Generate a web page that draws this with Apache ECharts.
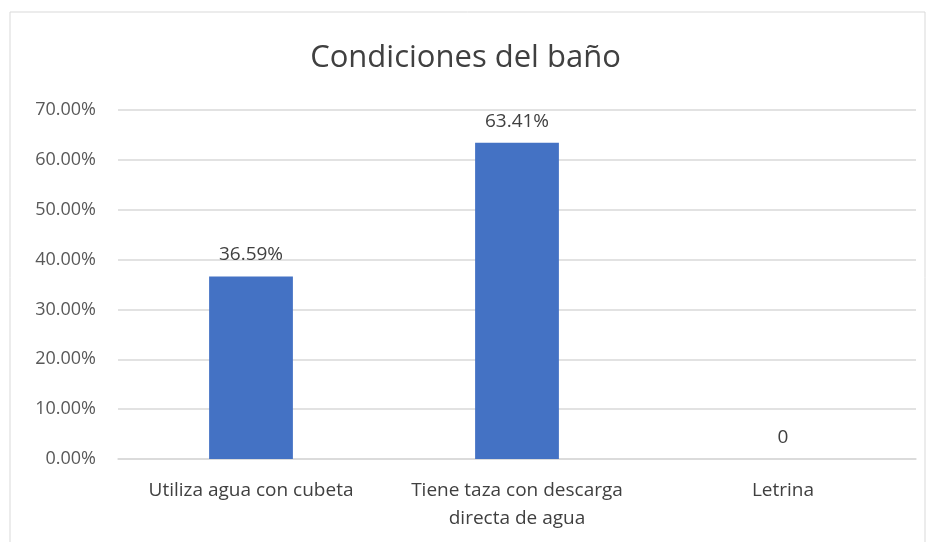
<!DOCTYPE html>
<html>
<head>
<meta charset="utf-8">
<script src="https://cdn.jsdelivr.net/npm/echarts@6/dist/echarts.min.js"></script>
<style>
  html, body { margin: 0; padding: 0; background: #fff; }
  #chart { width: 931px; height: 542px; }
</style>
</head>
<body>
<div id="chart"></div>
<script>
// data
var categories = ['Utiliza agua con cubeta', 'Tiene taza con descarga\ndirecta de agua', 'Letrina'];
var values = [36.59, 63.41, 0];
var labels = ['36.59%', '63.41%', '0'];

var chart = echarts.init(document.getElementById('chart'));
chart.setOption({
    backgroundColor: '#fff',
    textStyle: { fontFamily: 'Open Sans' },
    title: {
        text: 'Condiciones del baño',
        left: 'center',
        top: 38,
        textStyle: { fontSize: 31, fontWeight: 'normal', color: '#404040', fontFamily: 'Open Sans' }
    },
    graphic: [{
        type: 'rect',
        shape: { x: 10, y: 12, width: 915, height: 540 },
        style: { fill: 'none', stroke: '#d9d9d9', lineWidth: 1 },
        silent: true
    }],
    grid: { left: 118, right: 15, top: 110, bottom: 83 },
    xAxis: {
        type: 'category',
        data: categories,
        axisTick: { show: false },
        axisLine: { lineStyle: { color: '#d9d9d9', width: 1.5 } },
        axisLabel: { interval: 0, color: '#404040', fontSize: 19, margin: 18, lineHeight: 28 }
    },
    yAxis: {
        type: 'value',
        min: 0,
        max: 70,
        interval: 10,
        axisLine: { show: false },
        axisTick: { show: false },
        splitLine: { lineStyle: { color: '#d9d9d9', width: 1.5 } },
        axisLabel: {
            color: '#595959',
            fontSize: 18,
            margin: 22,
            formatter: function (v) { return v.toFixed(2) + '%'; }
        }
    },
    series: [{
        type: 'bar',
        data: values,
        barWidth: '31.5%',
        itemStyle: { color: '#4472c4' },
        label: {
            show: true,
            position: 'top',
            distance: 12,
            color: '#404040',
            fontSize: 19,
            formatter: function (p) { return labels[p.dataIndex]; }
        }
    }]
});
</script>
</body>
</html>
